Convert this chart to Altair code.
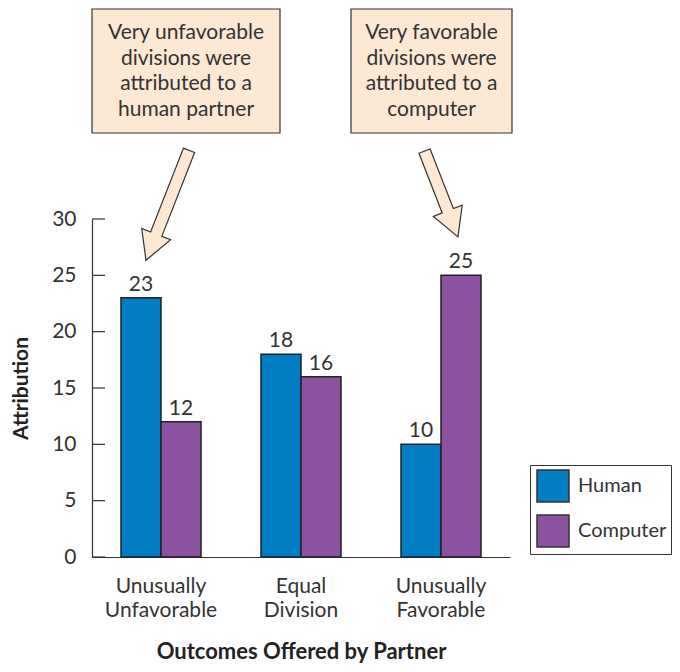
import altair as alt
import pandas as pd

# ---- data ----
categories = ["Unusually Unfavorable", "Equal Division", "Unusually Favorable"]
series = ["Human", "Computer"]
human = [23, 18, 10]
computer = [12, 16, 25]
y_ticks = [0, 5, 10, 15, 20, 25, 30]
callout_left = "Very unfavorable\ndivisions were\nattributed to a\nhuman partner"
callout_right = "Very favorable\ndivisions were\nattributed to a\ncomputer"

rows = []
for i, c in enumerate(categories):
    rows.append({"cat": c, "who": "Human", "value": human[i]})
    rows.append({"cat": c, "who": "Computer", "value": computer[i]})
df = pd.DataFrame(rows)
ticks_df = pd.DataFrame({"v": y_ticks})
one = pd.DataFrame({"k": [0]})

FONT = "Lato"
TXT = "#333333"
PEACH = "#fde8d4"
EDGE = "#333333"
FS = 21

x_enc = alt.X("cat:N", sort=categories, title="Outcomes Offered by Partner",
              scale=alt.Scale(paddingInner=60 / 140, paddingOuter=29 / 140),
              axis=alt.Axis(labelAngle=0, ticks=False, labelPadding=18,
                            labelBaseline="top", labelLineHeight=24,
                            labelExpr="split(datum.label, ' ')",
                            labelFontSize=FS, labelFont=FONT, labelColor=TXT,
                            titleFont=FONT, titleFontSize=22, titleFontWeight="bold",
                            titleColor="#222222", titleY=94, titleBaseline="middle",
                            domainColor=EDGE, domainWidth=1.2))
y_enc = alt.Y("value:Q", title="Attribution",
              scale=alt.Scale(domain=[0, 30], nice=False),
              axis=alt.Axis(values=y_ticks, ticks=False, grid=False, labelPadding=16,
                            labelFontSize=FS, labelFont=FONT, labelColor=TXT,
                            titleFont=FONT, titleFontSize=21, titleFontWeight="bold",
                            titleColor="#222222", titleX=-71, titleY=169,
                            titleBaseline="middle", titleAngle=270,
                            domainColor=EDGE, domainWidth=1.2))
xoff = alt.XOffset("who:N", sort=series, scale=alt.Scale(paddingInner=0, paddingOuter=0))
color = alt.Color("who:N", sort=series, title=None,
                  scale=alt.Scale(domain=series, range=["#007dc3", "#8b529f"]),
                  legend=alt.Legend(orient="none", legendX=438, legendY=246,
                                    direction="vertical", symbolType="square",
                                    symbolSize=1024, symbolStrokeColor=EDGE,
                                    symbolStrokeWidth=1.5, symbolOpacity=1,
                                    symbolOffset=2, labelOffset=8, rowPadding=7,
                                    padding=4, strokeColor=EDGE, fillColor="white",
                                    labelFontSize=20, labelFont=FONT, labelColor=TXT))

bars = alt.Chart(df).mark_bar(stroke="#222222", strokeWidth=1.5).encode(
    x=x_enc, xOffset=xoff, y=y_enc, color=color)

labels = alt.Chart(df).mark_text(font=FONT, fontSize=FS, color=TXT, dy=-7,
                                 baseline="alphabetic").encode(
    x=alt.X("cat:N", sort=categories), xOffset=alt.XOffset("who:N", sort=series),
    y="value:Q", text="value:Q")

tick_rules = alt.Chart(ticks_df).mark_rule(color=EDGE, strokeWidth=1.2).encode(
    y="v:Q", x=alt.value(0), x2=alt.value(13))

box1 = alt.Chart(one).mark_rect(fill=PEACH, stroke=EDGE, strokeWidth=1.2).encode(
    x=alt.value(0), x2=alt.value(188), y=alt.value(-210), y2=alt.value(-86))
box2 = alt.Chart(one).mark_rect(fill=PEACH, stroke=EDGE, strokeWidth=1.2).encode(
    x=alt.value(259), x2=alt.value(420), y=alt.value(-210), y2=alt.value(-86))
txt1 = alt.Chart(one).mark_text(font=FONT, fontSize=FS, color=TXT, lineBreak="\n",
                                lineHeight=25.7, align="center", baseline="middle").encode(
    x=alt.value(94), y=alt.value(-186), text=alt.value(callout_left))
txt2 = alt.Chart(one).mark_text(font=FONT, fontSize=FS, color=TXT, lineBreak="\n",
                                lineHeight=25.7, align="center", baseline="middle").encode(
    x=alt.value(339.5), y=alt.value(-186), text=alt.value(callout_right))

arrow1_path = "M -0.102 -1 L 0.102 -1 L 0.102 0.525 L 0.263 0.525 L 0 1 L -0.263 0.525 L -0.102 0.525 Z"
arrow2_path = "M -0.130 -1 L 0.130 -1 L 0.130 0.391 L 0.337 0.391 L 0 1 L -0.337 0.391 L -0.130 0.391 Z"
arrow1 = alt.Chart(one).mark_point(shape=arrow1_path, filled=True, fill=PEACH, fillOpacity=1,
                                   stroke=EDGE, strokeWidth=1.2, opacity=1, angle=21.4,
                                   size=118 ** 2).encode(
    x=alt.value(75.5), y=alt.value(-13.7))
arrow2 = alt.Chart(one).mark_point(shape=arrow2_path, filled=True, fill=PEACH, fillOpacity=1,
                                   stroke=EDGE, strokeWidth=1.2, opacity=1, angle=338.7,
                                   size=92 ** 2).encode(
    x=alt.value(349.25), y=alt.value(-25))

chart = alt.layer(bars, labels, tick_rules, box1, box2, txt1, txt2, arrow1, arrow2).properties(
    width=418, height=338,
    autosize=alt.AutoSizeParams(type="none"),
    padding={"left": 84, "top": 211, "right": 162, "bottom": 107},
).configure(font=FONT, view=alt.ViewConfig(stroke=None))

chart.save("out.html", embed_options={"renderer": "svg", "actions": False})
